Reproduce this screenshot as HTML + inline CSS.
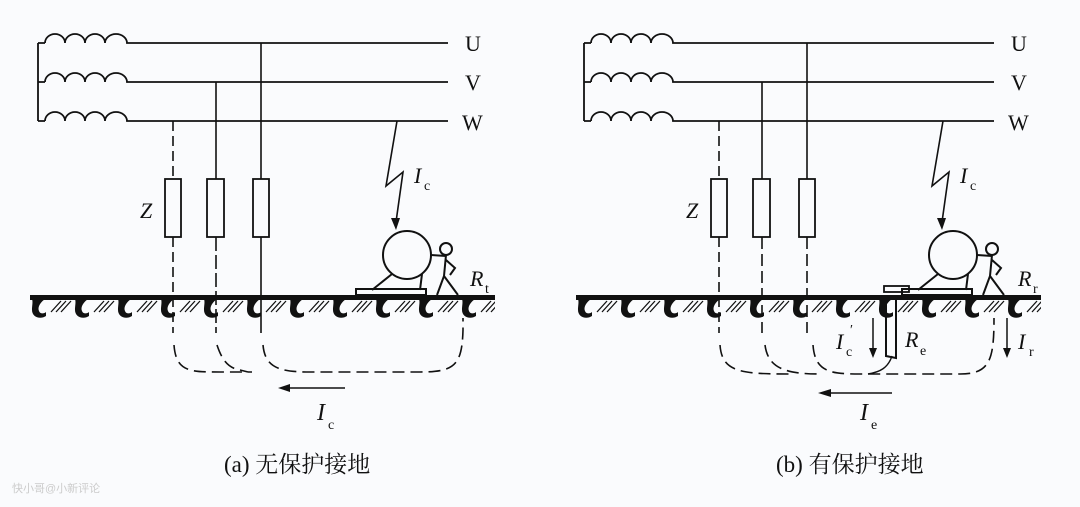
<!DOCTYPE html>
<html><head><meta charset="utf-8"><style>
html,body{margin:0;padding:0;background:#fafbfd;}
svg{display:block}
text{font-family:"Liberation Serif","Noto Serif CJK SC",serif;fill:#111}
</style></head><body>
<svg width="1080" height="507" viewBox="0 0 1080 507" xmlns="http://www.w3.org/2000/svg">
<defs>
<pattern id="gnd" x="30" y="296" width="43" height="24" patternUnits="userSpaceOnUse">
  <path d="M0,0 L20,0 C12,4 7,10 9,15 C10,18 14,18 16,16 L16,20 C10,24 2,21 2,14 C2,8 4,4 0,0 Z" fill="#111"/>
  <path d="M21,16 L31,5 M26,16 L36,5 M31,16 L41,5" stroke="#111" stroke-width="1.3"/>
</pattern>
<g id="panel">
  <g fill="none" stroke="#111" stroke-width="1.8">
    <path d="M38,43 V121"/>
    <path d="M38,43 H45 M38,82 H45 M38,121 H45"/>
    <path d="M45,43 a10,9 0 0 1 20,0 a10,9 0 0 1 20,0 a10,9 0 0 1 20,0 a11,9 0 0 1 22,0 H448"/>
    <path d="M45,82 a10,9 0 0 1 20,0 a10,9 0 0 1 20,0 a10,9 0 0 1 20,0 a11,9 0 0 1 22,0 H448"/>
    <path d="M45,121 a10,9 0 0 1 20,0 a10,9 0 0 1 20,0 a10,9 0 0 1 20,0 a11,9 0 0 1 22,0 H448"/>
    <rect x="165" y="179" width="16" height="58"/>
    <rect x="207" y="179" width="17" height="58"/>
    <rect x="253" y="179" width="16" height="58"/>
  </g>
  <g fill="none" stroke="#111" stroke-width="1.6">
    <path d="M173,121 V179 M173,237 V333" stroke-dasharray="10,5"/>
    <path d="M216,82 V179"/>
    <path d="M261,43 V179"/>
  </g>
  <rect x="30" y="295" width="465" height="5" fill="#111"/>
  <rect x="30" y="296" width="465" height="24" fill="url(#gnd)"/>
  <path d="M397,121 L386,186 L403,172 L396,222" fill="none" stroke="#111" stroke-width="1.6"/>
  <path d="M391,218 L396,230 L400,218 Z" fill="#111"/>
  <g fill="none" stroke="#111" stroke-width="2">
    <circle cx="407" cy="255" r="24"/>
    <path d="M392,274 L372,290 M422,274 L420,290"/>
    <rect x="356" y="289" width="70" height="6"/>
    <path d="M431,255 L446,256"/>
    <circle cx="446" cy="249" r="6"/>
    <path d="M446,255 L444,276 L437,295 M444,276 L458,295 M446,260 L455,268 L450,275"/>
  </g>
  <text x="140" y="218" font-size="22" font-style="italic">Z</text>
  <text x="414" y="183" font-size="22" font-style="italic">I</text><text x="424" y="190" font-size="14">c</text>
  <text x="465" y="51" font-size="22">U</text>
  <text x="465" y="90" font-size="22">V</text>
  <text x="462" y="130" font-size="22">W</text>
</g>
</defs>
<use href="#panel"/>
<g fill="none" stroke="#111" stroke-width="1.6">
  <path d="M216,237 V333" stroke-dasharray="14,4"/>
  <path d="M261,237 V333"/>
</g>
<text x="470" y="286" font-size="22" font-style="italic">R</text><text x="485" y="293" font-size="14">t</text>
<g fill="none" stroke="#111" stroke-width="1.6" stroke-dasharray="12,6">
  <path d="M174,345 C176,372 190,372 220,372 H252"/>
  <path d="M217,345 C222,360 228,368 240,370 L248,372"/>
  <path d="M263,345 C265,368 280,372 310,372 H420 C455,372 462,365 463,330 V318"/>
</g>
<path d="M345,388 H285" stroke="#111" stroke-width="1.6"/>
<path d="M278,388 L290,384 L290,392 Z" fill="#111"/>
<text x="317" y="420" font-size="24" font-style="italic">I</text><text x="328" y="429" font-size="14">c</text>
<text x="224" y="472" font-size="23">(a) 无保护接地</text>
<g transform="translate(546,0)"><use href="#panel"/>
<g fill="none" stroke="#111" stroke-width="1.6" stroke-dasharray="12,5">
  <path d="M216,237 V333"/>
  <path d="M261,237 V333"/>
</g></g>
<rect x="884" y="286" width="25" height="6" fill="none" stroke="#111" stroke-width="1.8"/>
<path d="M886,296 V356 L896,358 L896,296" fill="none" stroke="#111" stroke-width="2"/>
<path d="M892,356 C888,368 880,372 868,374" fill="none" stroke="#111" stroke-width="1.4"/>
<g fill="none" stroke="#111" stroke-width="1.6" stroke-dasharray="12,6">
  <path d="M720,345 C722,372 740,374 790,374"/>
  <path d="M765,345 C768,368 785,374 820,374"/>
  <path d="M813,345 C815,372 830,374 860,374 H960 C990,374 994,360 994,318"/>
</g>
<path d="M873,318 V352" stroke="#111" stroke-width="1.5"/><path d="M869,348 L873,358 L877,348 Z" fill="#111"/>
<path d="M1007,318 V352" stroke="#111" stroke-width="1.5"/><path d="M1003,348 L1007,358 L1011,348 Z" fill="#111"/>
<text x="836" y="349" font-size="22" font-style="italic">I</text><text x="846" y="356" font-size="14">c</text><text x="850" y="334" font-size="14">′</text>
<text x="905" y="347" font-size="22" font-style="italic">R</text><text x="920" y="355" font-size="14">e</text>
<text x="1018" y="349" font-size="22" font-style="italic">I</text><text x="1029" y="356" font-size="14">r</text>
<text x="1018" y="286" font-size="22" font-style="italic">R</text><text x="1033" y="293" font-size="14">r</text>
<path d="M892,393 H830" stroke="#111" stroke-width="1.6"/>
<path d="M818,393 L831,389 L831,397 Z" fill="#111"/>
<text x="860" y="420" font-size="24" font-style="italic">I</text><text x="871" y="429" font-size="14">e</text>
<text x="776" y="472" font-size="23">(b) 有保护接地</text>
<text x="12" y="492" font-size="11" style="fill:#ccc;font-family:'Liberation Sans','Noto Sans CJK SC',sans-serif">快小哥@小新评论</text>
</svg>
</body></html>
